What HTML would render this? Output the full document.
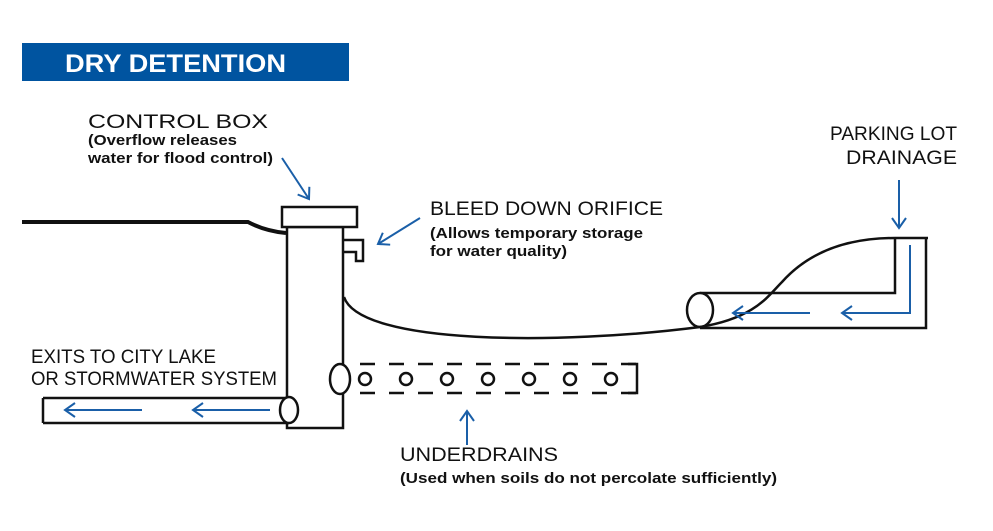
<!DOCTYPE html>
<html><head><style>
body{margin:0;background:#fff;}
svg{display:block;}
text{font-family:"Liberation Sans",sans-serif;fill:#111;}
</style></head><body>
<svg width="993" height="531" viewBox="0 0 993 531" xmlns="http://www.w3.org/2000/svg">
<defs>
<marker id="ah" markerWidth="16" markerHeight="16" refX="11" refY="8" orient="auto" markerUnits="userSpaceOnUse">
<path d="M1,1 L11,8 L1,15" fill="none" stroke="#1a5fa8" stroke-width="2"/>
</marker>
</defs>
<rect x="22" y="43" width="327" height="38" fill="#0054a0"/>
<text x="65" y="72" font-size="25" font-weight="bold" textLength="221" lengthAdjust="spacingAndGlyphs" style="fill:#fff">DRY DETENTION</text>

<text x="88" y="128" font-size="19" textLength="180" lengthAdjust="spacingAndGlyphs">CONTROL BOX</text>
<text x="88" y="145" font-size="15" font-weight="bold" textLength="149" lengthAdjust="spacingAndGlyphs">(Overflow releases</text>
<text x="88" y="163" font-size="15" font-weight="bold" textLength="185" lengthAdjust="spacingAndGlyphs">water for flood control)</text>

<text x="430" y="215" font-size="19" textLength="233" lengthAdjust="spacingAndGlyphs">BLEED DOWN ORIFICE</text>
<text x="430" y="238" font-size="15" font-weight="bold" textLength="213" lengthAdjust="spacingAndGlyphs">(Allows temporary storage</text>
<text x="430" y="256" font-size="15" font-weight="bold" textLength="137" lengthAdjust="spacingAndGlyphs">for water quality)</text>

<text x="830" y="140" font-size="19" textLength="127" lengthAdjust="spacingAndGlyphs">PARKING LOT</text>
<text x="846" y="164" font-size="19" textLength="111" lengthAdjust="spacingAndGlyphs">DRAINAGE</text>

<text x="31" y="363" font-size="19" textLength="185" lengthAdjust="spacingAndGlyphs">EXITS TO CITY LAKE</text>
<text x="31" y="385" font-size="19" textLength="246" lengthAdjust="spacingAndGlyphs">OR STORMWATER SYSTEM</text>

<text x="400" y="461" font-size="19" textLength="158" lengthAdjust="spacingAndGlyphs">UNDERDRAINS</text>
<text x="400" y="483" font-size="15" font-weight="bold" textLength="377" lengthAdjust="spacingAndGlyphs">(Used when soils do not percolate sufficiently)</text>

<g fill="none" stroke="#111" stroke-width="2.5">
<path d="M22,222 L248,222 Q265,231 286,233" stroke-width="4"/>
<rect x="287" y="227" width="56" height="201"/>
<rect x="282" y="207" width="75" height="20" fill="#fff"/>
<path d="M344,240 L363,240 L363,261 L356,261 L356,252 L344,252"/>
<path d="M43,398 L289,398 M43,423 L289,423 M43,398 L43,423"/>
<ellipse cx="289" cy="410" rx="9" ry="13" fill="#fff"/>
<ellipse cx="340" cy="379" rx="10" ry="15" fill="#fff"/>
<path d="M360,364 L637,364 M360,393 L637,393" stroke-dasharray="15,14"/>
<path d="M628,364 L637,364 L637,393 L628,393"/>
<circle cx="365" cy="379" r="6"/><circle cx="406" cy="379" r="6"/><circle cx="447" cy="379" r="6"/>
<circle cx="488" cy="379" r="6"/><circle cx="529" cy="379" r="6"/><circle cx="570" cy="379" r="6"/>
<circle cx="611" cy="379" r="6"/>
<path d="M700,293 L895,293 L895,238 M700,328 L926,328 L926,238 M895,238 L928,238"/>
<ellipse cx="700" cy="310" rx="13" ry="17" fill="#fff"/>
<path d="M344,297 C360,345 560,345 700,327 C755,318 768,296 782,282 C815,245 860,238 895,238"/>
</g>
<g fill="none" stroke="#1a5fa8" stroke-width="2">
<path d="M142,410 L65,410" marker-end="url(#ah)"/>
<path d="M270,410 L193,410" marker-end="url(#ah)"/>
<path d="M810,313 L733,313" marker-end="url(#ah)"/>
<path d="M910,245 L910,313 L842,313" marker-end="url(#ah)"/>
<path d="M899,180 L899,228" marker-end="url(#ah)"/>
<path d="M282,158 L309,199" marker-end="url(#ah)"/>
<path d="M420,218 L378,244" marker-end="url(#ah)"/>
<path d="M467,445 L467,411" marker-end="url(#ah)"/>
</g>
</svg>
</body></html>
